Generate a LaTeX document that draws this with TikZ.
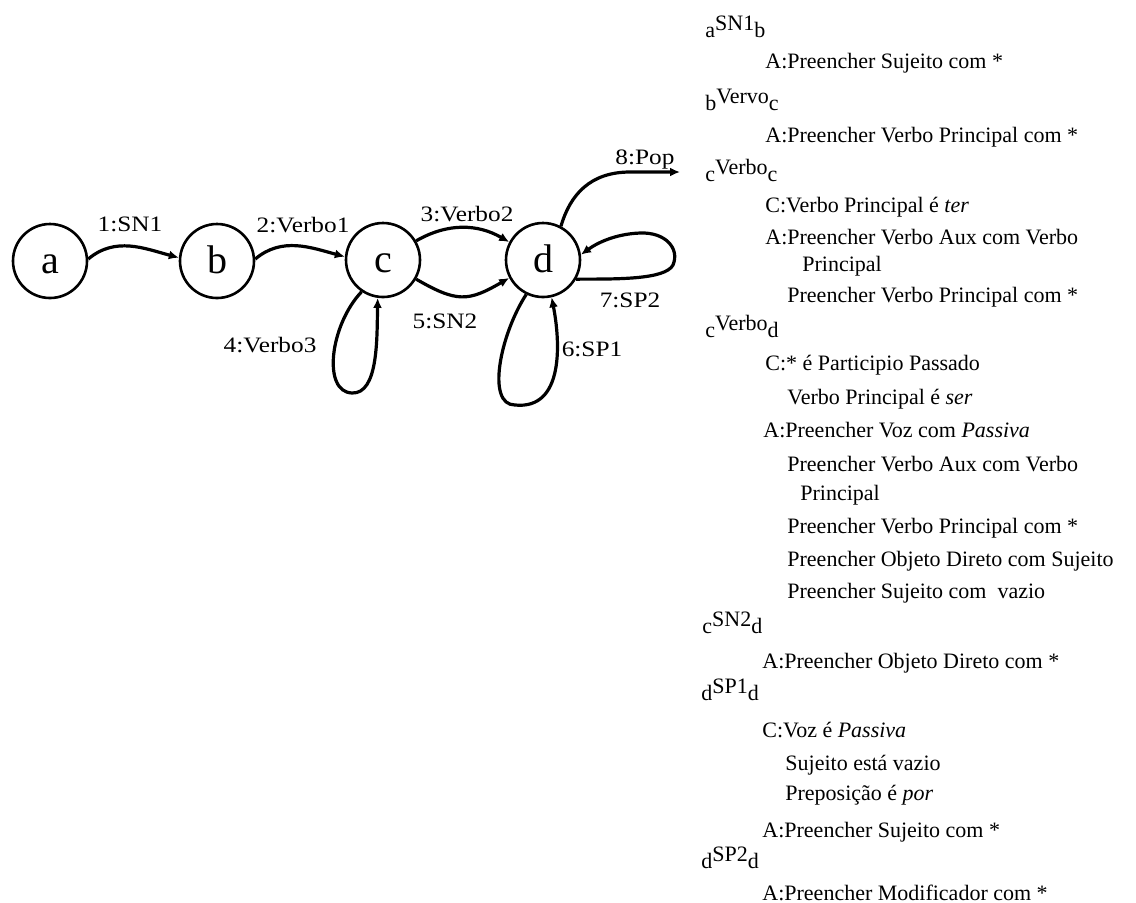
\documentclass[tikz,border=0pt]{standalone}
\usepackage{fontspec}
\setmainfont{Liberation Serif}
\newfontfamily\lblfont{Liberation Serif}[FakeStretch=1.15]
\usetikzlibrary{arrows.meta}
\newcommand\rhdr[3]{#1\raisebox{3.3pt}{#2}#3}
\begin{document}
\begin{tikzpicture}[x=0.5pt,y=0.5pt,
  state/.style={circle,draw,line width=1.3pt,minimum size=37pt,inner sep=0pt,
    text height=12pt,text depth=0pt,font=\fontsize{20}{20}\selectfont},
  edge/.style={line width=1.6pt,-{Latex[length=5pt,width=4.5pt]}},
  lbl/.style={inner sep=0pt,text height=7.5pt,text depth=0pt,
    font=\lblfont\fontsize{11}{11}\selectfont},
  txt/.style={anchor=base west,inner sep=0pt,font=\fontsize{11}{13}\selectfont}]
\useasboundingbox (0,0) rectangle (1136,-902);
% states
\node[state] (a) at (50,-261) {a};
\node[state] (b) at (217,-261) {b};
\node[state] (c) at (383,-260) {c};
\node[state] (d) at (543,-260) {d};
\coordinate (popend) at (680,-172);
% edges
\draw[edge] (a.3) to[out=40,in=165] (b.175);
\draw[edge] (b.3) to[out=40,in=165] (c.175);
\draw[edge] (c.30) to[out=30,in=150] (d.152);
\draw[edge] (c.-30) to[out=-30,in=-150,looseness=1.3] (d.208);
\draw[edge] (c.236) .. controls (330,-325) and (322,-392) .. (352,-393)
   .. controls (378,-394) and (377,-340) .. (c.262);
\draw[edge] (d.244) .. controls (500,-335) and (486,-405) .. (515,-405)
   .. controls (565,-410) and (560,-340) .. (d.283);
\draw[edge] (d.-30) .. controls (615,-279) and (665,-280) .. (673,-265)
   .. controls (680,-248) and (665,-232) .. (640,-233)
   .. controls (615,-234) and (597,-243) .. (d.8);
\draw[edge] (d.62) .. controls (570,-195) and (590,-172) .. (630,-172) -- (popend);
% edge labels
\node[lbl] (l1) at (130,-224) {1:SN1};
\node[lbl] (l2) at (303,-225) {2:Verbo1};
\node[lbl] (l3) at (467,-214) {3:Verbo2};
\node[lbl] (l4) at (270,-345) {4:Verbo3};
\node[lbl] (l5) at (445,-321) {5:SN2};
\node[lbl] (l6) at (592,-349) {6:SP1};
\node[lbl] (l7) at (630,-300) {7:SP2};
\node[lbl] (l8) at (645,-157) {8:Pop};
% right-hand text
\node[txt] (h1) at (705,-37) {\rhdr{a}{SN1}{b}};
\node[txt] (t1) at (765,-68) {A:Preencher Sujeito com *};
\node[txt] (h2) at (705,-110) {\rhdr{b}{Vervo}{c}};
\node[txt] (t2) at (765,-142) {A:Preencher Verbo Principal com *};
\node[txt] (h3) at (705,-181) {\rhdr{c}{Verbo}{c}};
\node[txt] (t3) at (765,-212) {C:Verbo Principal é \textit{ter}};
\node[txt] (t4) at (765,-244) {A:Preencher Verbo Aux com Verbo};
\node[txt] (t5) at (802,-271) {Principal};
\node[txt] (t6) at (787,-302) {Preencher Verbo Principal com *};
\node[txt] (h4) at (705,-337) {\rhdr{c}{Verbo}{d}};
\node[txt] (t7) at (765,-370) {C:* é Participio Passado};
\node[txt] (t8) at (787,-404) {Verbo Principal é \textit{ser}};
\node[txt] (t9) at (763,-437) {A:Preencher Voz com \textit{Passiva}};
\node[txt] (t10) at (787,-471) {Preencher Verbo Aux com Verbo};
\node[txt] (t11) at (800,-500) {Principal};
\node[txt] (t12) at (787,-533) {Preencher Verbo Principal com *};
\node[txt] (t13) at (787,-566) {Preencher Objeto Direto com Sujeito};
\node[txt] (t14) at (787,-598) {Preencher Sujeito com~ vazio};
\node[txt] (h5) at (702,-633) {\rhdr{c}{SN2}{d}};
\node[txt] (t15) at (762,-668) {A:Preencher Objeto Direto com *};
\node[txt] (h6) at (701,-700) {\rhdr{d}{SP1}{d}};
\node[txt] (t16) at (762,-737) {C:Voz é \textit{Passiva}};
\node[txt] (t17) at (785,-770) {Sujeito está vazio};
\node[txt] (t18) at (785,-800) {Preposição é \textit{por}};
\node[txt] (t19) at (762,-837) {A:Preencher Sujeito com *};
\node[txt] (h7) at (701,-868) {\rhdr{d}{SP2}{d}};
\node[txt] (t20) at (762,-900) {A:Preencher Modificador com *};
\end{tikzpicture}
\end{document}
